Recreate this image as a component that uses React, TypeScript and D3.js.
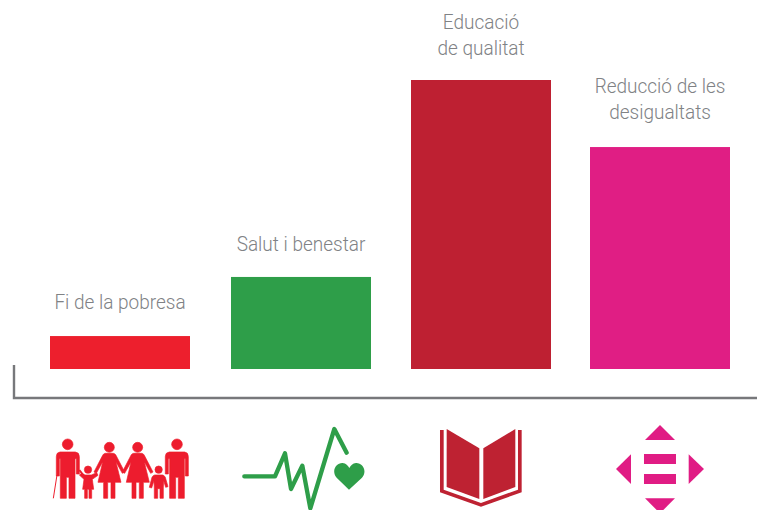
import React from "react";
import * as d3 from "d3";

const categories = ["Fi de la pobresa", "Salut i benestar", "Educació\nde qualitat", "Reducció de les\ndesigualtats"];
const values = [2.28, 6.37, 20, 15.36];
const colors = ["#ed1f2d", "#2e9e49", "#be2032", "#e01e84"];
const barNudge = [0, 1, 1, 0];
const labelGap = [27, 26, 25.5, 28.5];

const W = 757, H = 510;
const BAR_W = 140;
const x = d3.scaleLinear().domain([0, 3]).range([120, 660]);
const y = d3.scaleLinear().domain([0, 20]).range([369, 80]);

function FamilyIcon({ fill }: { fill: string }) {
  const man = "M90,96 L136,96 Q148,97 148,110 L148,162 L139,162 L139,116 L135,116 L135,235 L117,235 L117,172 L109,172 L109,235 L91,235 L91,116 L88,116 L88,168 L79,168 L79,110 Q79,97 90,96 Z";
  const woman = "M226,100 L250,100 Q256,101 258,106 L284,156 L277,160 L258,126 L273,187 L255,187 L255,235 L243,235 L243,187 L233,187 L233,235 L221,235 L221,187 L204,187 L218,126 L199,160 L192,156 L218,106 Q220,101 226,100 Z";
  return (
    <g transform="translate(30,420) scale(0.3333)" fill={fill} stroke={fill} strokeWidth={2} strokeLinejoin="round" filter="url(#soft)">
      <circle cx={113} cy={73} r={16} />
      <path d={man} />
      <path d="M81,165 L70,235" strokeWidth={3} fill="none" />
      <path d="M148,150 L165,172" strokeWidth={6} fill="none" />
      <circle cx={174} cy={149} r={11} />
      <path d="M165,165 L184,165 L200,158 L204,166 L187,178 L191,208 L185,208 L185,235 L177,235 L177,208 L172,208 L172,235 L164,235 L164,208 L158,208 L162,178 L148,165 L155,160 Z" />
      <circle cx={238} cy={82} r={15} />
      <path d={woman} />
      <g transform="translate(85,0)">
        <circle cx={238} cy={82} r={15} />
        <path d={woman} />
      </g>
      <circle cx={386} cy={149} r={11} />
      <path d="M374,165 L398,165 Q403,166 406,172 L414,200 L407,202 L401,182 L400,204 L400,235 L390,235 L390,206 L383,206 L383,235 L373,235 L373,204 L372,182 L365,204 L358,202 L366,172 Q369,166 374,165 Z" />
      <g transform="translate(554,0) scale(-1,1)">
        <circle cx={113} cy={73} r={16} />
        <path d={man} />
      </g>
    </g>
  );
}

function PulseIcon({ fill }: { fill: string }) {
  return (
    <g transform="translate(230,415) scale(0.3333)" filter="url(#soft)">
      <path d="M43,184 L135,184 L165,115 L183,222 L217,152 L241,280 L313,42 L350,113" fill="none" stroke={fill} strokeWidth={13} strokeLinejoin="round" strokeLinecap="round" />
      <path d="M357,224 L320,188 C303,168 318,143 338,144 C348,145 354,151 358,159 C362,151 368,145 378,144 C398,143 413,168 396,188 Z" fill={fill} />
    </g>
  );
}

function BookIcon({ fill }: { fill: string }) {
  return (
    <g transform="translate(420,415) scale(0.3333)" fill={fill} filter="url(#soft)">
      <path d="M80,42 L178,100 L178,252 L80,216 Z" />
      <path d="M190,100 L286,42 L286,216 L190,252 Z" />
      <path d="M60,45 L71,45 L71,224 L183,264 L294,224 L294,45 L305,45 L305,232 L183,275 L60,232 Z" />
    </g>
  );
}

function ArrowsIcon({ fill }: { fill: string }) {
  return (
    <g transform="translate(600,415) scale(0.3333)" fill={fill} filter="url(#soft)">
      <path d="M180,30 L225,75 L135,75 Z" />
      <path d="M135,250 L225,250 L180,295 Z" />
      <path d="M93,118 L93,207 L48,162 Z" />
      <path d="M266,118 L266,207 L312,162 Z" />
      <path d="M132,117 H228 V147 H132 Z" />
      <path d="M132,177 H228 V207 H132 Z" />
    </g>
  );
}

const Label = ({ text, cx, bottom }: { text: string; cx: number; bottom: number }) => {
  const lines = text.split("\n");
  return (
    <g>
      {lines.map((l, i) => (
        <text
          key={i}
          transform={`translate(${cx},${bottom - (lines.length - 1 - i) * 25.5}) scale(0.905,1)`}
          textAnchor="middle"
          fontFamily="Roboto"
          fontWeight={300}
          fontSize={21}
          fill="#808285"
        >
          {l}
        </text>
      ))}
    </g>
  );
};

export default function App() {
  return (
    <svg width={W} height={H} viewBox={`0 0 ${W} ${H}`} style={{ position: "absolute", left: 0, top: 0, background: "#fff" }}>
      <defs>
        <filter id="soft" x="-5%" y="-5%" width="110%" height="110%">
          <feGaussianBlur stdDeviation="1.2" />
        </filter>
      </defs>
      {values.map((v, i) => (
        <rect key={i} x={x(i) - BAR_W / 2 + barNudge[i]} y={y(v)} width={BAR_W} height={y(0) - y(v)} fill={colors[i]} />
      ))}
      {categories.map((c, i) => (
        <Label key={c} text={c} cx={x(i) + barNudge[i]} bottom={y(values[i]) - labelGap[i]} />
      ))}
      <path d="M14,365 V398 H757" fill="none" stroke="#77787b" strokeWidth={2.4} />
      <FamilyIcon fill={colors[0]} />
      <PulseIcon fill={colors[1]} />
      <BookIcon fill={colors[2]} />
      <ArrowsIcon fill={colors[3]} />
    </svg>
  );
}
